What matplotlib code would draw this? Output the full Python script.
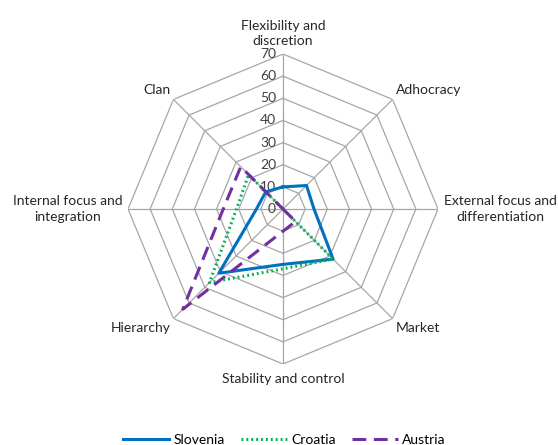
import matplotlib.pyplot as plt
import numpy as np

# values
categories = ["Flexibility and\ndiscretion", "Adhocracy", "External focus and\ndifferentiation",
              "Market", "Stability and control", "Hierarchy", "Internal focus and\nintegration", "Clan"]
slovenia = [10, 15, 14, 32, 25, 41, 12, 11]
croatia = [0, 0, 0, 32, 27, 47, 21, 22]
austria = [0, 0, 0, 8, 10, 64, 27, 27]
ticks = [0, 10, 20, 30, 40, 50, 60, 70]

plt.rcParams['font.family'] = ['Lato', 'DejaVu Sans']

fig = plt.figure(figsize=(5.58, 4.45), dpi=100)
ax = fig.add_axes([0.2294, 0.182, 0.5556, 0.6966], projection='polar')
ax.set_theta_offset(np.pi / 2)
ax.set_theta_direction(-1)
ax.set_ylim(0, 70)
ax.grid(False)
ax.spines['polar'].set_visible(False)
ax.set_xticks([])
ax.set_yticks([])
ax.patch.set_alpha(0)

n = len(categories)
angles = np.arange(n) * 2 * np.pi / n
closed = np.append(angles, angles[0])

grid_col = '#A6A6A6'
for t in ticks[1:]:
    ax.plot(closed, [t] * (n + 1), color=grid_col, lw=0.9, zorder=1)
for a in angles:
    ax.plot([a, a], [0, ticks[-1]], color=grid_col, lw=0.9, zorder=1)

# radial tick labels on the top spoke
for t in ticks:
    ax.annotate(str(t), xy=(0, t), xytext=(-5, 0), textcoords='offset points',
                ha='right', va='center', fontsize=10, color='#404040')

def closed_vals(v):
    return list(v) + [v[0]]

ax.plot(closed, closed_vals(slovenia), color='#0070C0', lw=2.2, label='Slovenia', zorder=3)
ax.plot(closed, closed_vals(croatia), color='#00B050', lw=2.2, ls=(0, (0.6, 1.0)), label='Croatia', zorder=4)
ax.plot(closed, closed_vals(austria), color='#7030A0', lw=2.2, ls=(0, (4.5, 2.5)), label='Austria', zorder=5)

# category labels around the frame
label_pos = [
    (73, 'center', 'bottom'),
    (72, 'left', 'bottom'),
    (72.5, 'left', 'center'),
    (72, 'left', 'top'),
    (74, 'center', 'top'),
    (72, 'right', 'top'),
    (72.5, 'right', 'center'),
    (72, 'right', 'bottom'),
]
for a, cat, (r, ha, va) in zip(angles, categories, label_pos):
    ax.text(a, r, cat, ha=ha, va=va, multialignment='center', linespacing=1.35,
            fontsize=10, color='#262626')

fig.legend(loc='lower center', bbox_to_anchor=(0.51, -0.03), ncol=3, frameon=False,
           handlelength=3.3, columnspacing=1.2, handletextpad=0.3, fontsize=10)

fig.savefig('out.png', dpi=100)
